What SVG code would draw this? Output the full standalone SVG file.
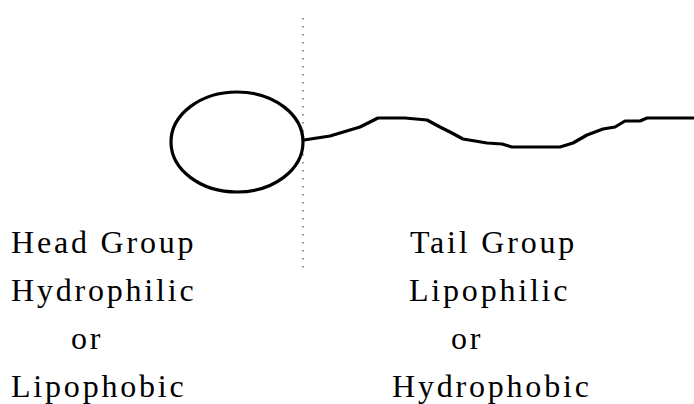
<svg xmlns="http://www.w3.org/2000/svg" width="694" height="404" viewBox="0 0 694 404">
  <style>
    .outline { fill: none; stroke: #000; stroke-width: 3.2; stroke-linejoin: round; stroke-linecap: round; }
    .divider { fill: none; stroke: #777; stroke-width: 1.6; stroke-dasharray: 1.6 6.4; }
    .label { font-family: "Liberation Serif", "Times New Roman", serif; font-size: 32px; letter-spacing: 2.8px; fill: #000; }
  </style>
  <rect width="694" height="404" fill="#fff"/>

  <!-- dotted boundary between head and tail -->
  <g id="boundary">
    <line class="divider" x1="303" y1="18" x2="303" y2="274"/>
  </g>

  <!-- polar head -->
  <g id="head">
    <ellipse class="outline" cx="237" cy="142" rx="66" ry="50" fill="#fff"/>
  </g>

  <!-- hydrocarbon tail -->
  <g id="connectors">
    <polyline class="outline" points="304,140 330,136 360,127 378,118 405,118 427,120 440,127 450,132 463,139 487,143 502,144 512,147 560,147 573,143 587,135 603,129 615,127 625,121 640,121 647,118 694,118"/>
  </g>

  <!-- head labels -->
  <g id="head-labels">
    <text class="label" x="11" y="253">Head Group</text>
    <text class="label" x="11" y="301">Hydrophilic</text>
    <text class="label" x="71" y="349">or</text>
    <text class="label" x="11" y="397">Lipophobic</text>
  </g>

  <!-- tail labels -->
  <g id="tail-labels">
    <text class="label" x="410" y="253">Tail Group</text>
    <text class="label" x="409" y="301">Lipophilic</text>
    <text class="label" x="451" y="349">or</text>
    <text class="label" x="392" y="397">Hydrophobic</text>
  </g>
</svg>
